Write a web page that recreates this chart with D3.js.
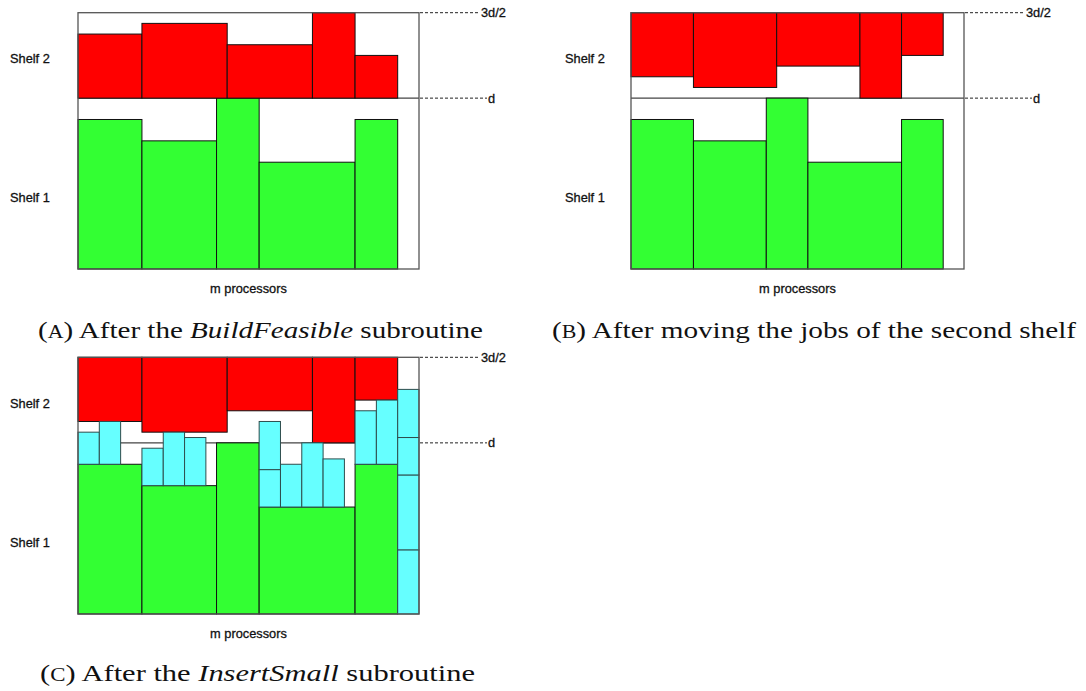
<!DOCTYPE html>
<html>
<head>
<meta charset="utf-8">
<script src="https://cdn.jsdelivr.net/npm/d3@7"></script>
<style>
  body { margin: 0; background: #fff; }
</style>
</head>
<body>
<div id="chart"></div>
<script>
// processors on the x axis, heights in units of d
const m = 32;
const shelf1Widths = [6, 7, 4, 9, 4];
const shelf1Heights = [0.875, 0.75, 1, 0.625, 0.875];
const shelf2Widths = [6, 8, 8, 4, 4];
const shelf2Heights = [0.375, 0.4375, 0.3125, 0.5, 0.25];
// small jobs: first processor of the column they sit on, and their length
const smallCols = [0, 2, 6, 8, 10, 17, 17, 19, 21, 23, 26, 28, 30, 30, 30, 30];
const smallLens = [0.1875, 0.25, 0.21875, 0.3125, 0.28125, 0.21875, 0.28125, 0.25, 0.375, 0.28125, 0.3125, 0.375, 0.375, 0.4375, 0.21875, 0.28125];
const smallWidth = 2;
const levels = [1, 1.5];
const levelLabels = ["d", "3d/2"];
const shelfLabels = ["Shelf 1", "Shelf 2"];
const axisTitle = "m processors";
const captionA = [["(", ""], ["A", "sc"], [") After the ", ""], ["BuildFeasible", "i"], [" subroutine", ""]];
const captionB = [["(", ""], ["B", "sc"], [") After moving the jobs of the second shelf", ""]];
const captionC = [["(", ""], ["C", "sc"], [") After the ", ""], ["InsertSmall", "i"], [" subroutine", ""]];

(function() {
    const W = 1086, H = 691;
    const colors = {big: "#33ff33", tall: "#ff0000", small: "#66ffff"};

    const svg = d3.select("#chart")
        .append("svg")
        .attr("width", W)
        .attr("height", H)
        .style("font-family", "'Liberation Sans', Arial, sans-serif");

    const panels = [
        {left: 78, right: 419, top: 12.7, bottom: 269, labelX: 10, topAligned: false, small: false,
         caption: captionA, capX: 38, capY: 338, capW: 445},
        {left: 631, right: 964, top: 12.7, bottom: 269, labelX: 565, topAligned: true, small: false,
         caption: captionB, capX: 552, capY: 338, capW: 524},
        {left: 78, right: 419, top: 357.3, bottom: 614, labelX: 10, topAligned: true, small: true,
         caption: captionC, capX: 40, capY: 681, capW: 435}
    ];

    const starts1 = [0, ...d3.cumsum(shelf1Widths)];
    const starts2 = [0, ...d3.cumsum(shelf2Widths)];

    const shelf1 = shelf1Widths.map((w, i) => ({x0: starts1[i], x1: starts1[i] + w, y0: 0, y1: shelf1Heights[i]}));

    // stack the small jobs on top of whatever already sits in their column
    const colTop = {};
    const small = smallCols.map((c, i) => {
        if (colTop[c] === undefined) {
            const job = shelf1.find(j => c >= j.x0 && c < j.x1);
            colTop[c] = job ? job.y1 : 0;
        }
        const y0 = colTop[c];
        colTop[c] = y0 + smallLens[i];
        return {x0: c, x1: c + smallWidth, y0: y0, y1: colTop[c]};
    });

    const label = (sel) => sel
        .style("font-size", "12.8px")
        .style("fill", "#111")
        .style("stroke", "#111")
        .style("stroke-width", 0.3);

    panels.forEach(p => {
        const x = d3.scaleLinear().domain([0, m]).range([p.left, p.right]);
        const y = d3.scaleLinear().domain([0, 1.5]).range([p.bottom, p.top]);
        const g = svg.append("g");

        const shelf2 = shelf2Widths.map((w, i) => p.topAligned
            ? {x0: starts2[i], x1: starts2[i] + w, y0: 1.5 - shelf2Heights[i], y1: 1.5}
            : {x0: starts2[i], x1: starts2[i] + w, y0: 1, y1: 1 + shelf2Heights[i]});

        g.append("rect")
            .attr("x", x(0)).attr("y", y(1.5))
            .attr("width", x(m) - x(0)).attr("height", y(0) - y(1.5))
            .attr("fill", "#fff");

        g.append("line")
            .attr("x1", x(0)).attr("x2", x(m))
            .attr("y1", y(1)).attr("y2", y(1))
            .attr("stroke", "#444").attr("stroke-width", 1.2);

        const drawJobs = (jobs, fill, stroke) => {
            g.selectAll(null)
                .data(jobs)
                .enter()
                .append("rect")
                .attr("x", d => x(d.x0))
                .attr("y", d => y(d.y1))
                .attr("width", d => x(d.x1) - x(d.x0))
                .attr("height", d => y(d.y0) - y(d.y1))
                .attr("fill", fill)
                .attr("stroke", stroke)
                .attr("stroke-width", 1);
        };

        drawJobs(shelf1, colors.big, "#111");
        drawJobs(shelf2, colors.tall, "#111");
        if (p.small) drawJobs(small, colors.small, "#2e4d4d");

        // frame
        g.append("rect")
            .attr("x", x(0)).attr("y", y(1.5))
            .attr("width", x(m) - x(0)).attr("height", y(0) - y(1.5))
            .attr("fill", "none")
            .attr("stroke", "#555")
            .attr("stroke-width", 1.3);

        // dashed level markers
        levels.forEach((lv, i) => {
            const end = x(m) + (lv === 1 ? 68 : 61);
            g.append("line")
                .attr("x1", x(m) + 1).attr("x2", end)
                .attr("y1", y(lv)).attr("y2", y(lv))
                .attr("stroke", "#222")
                .attr("stroke-width", 1)
                .attr("stroke-dasharray", "3,2");
            g.append("text")
                .attr("x", end + 1)
                .attr("y", y(lv))
                .attr("dy", "0.36em")
                .call(label)
                .text(levelLabels[i]);
        });

        g.append("text")
            .attr("x", p.labelX)
            .attr("y", y(1.5) + 50.5)
            .call(label)
            .text(shelfLabels[1]);

        g.append("text")
            .attr("x", p.labelX)
            .attr("y", y(1.5) + 189.5)
            .call(label)
            .text(shelfLabels[0]);

        g.append("text")
            .attr("x", (x(0) + x(m)) / 2)
            .attr("y", y(0) + 24)
            .attr("text-anchor", "middle")
            .call(label)
            .text(axisTitle);

        // caption
        const cap = svg.append("text")
            .attr("x", p.capX)
            .attr("y", p.capY)
            .attr("textLength", p.capW)
            .attr("lengthAdjust", "spacingAndGlyphs")
            .style("font-family", "'Liberation Serif', 'Times New Roman', serif")
            .style("font-size", "24px")
            .style("fill", "#111")
            .style("white-space", "pre");

        p.caption.forEach(([t, kind]) => {
            const ts = cap.append("tspan").text(t);
            if (kind === "i") ts.style("font-style", "italic");
            if (kind === "sc") ts.style("font-size", "18px");
        });
    });
})();
</script>
</body>
</html>
